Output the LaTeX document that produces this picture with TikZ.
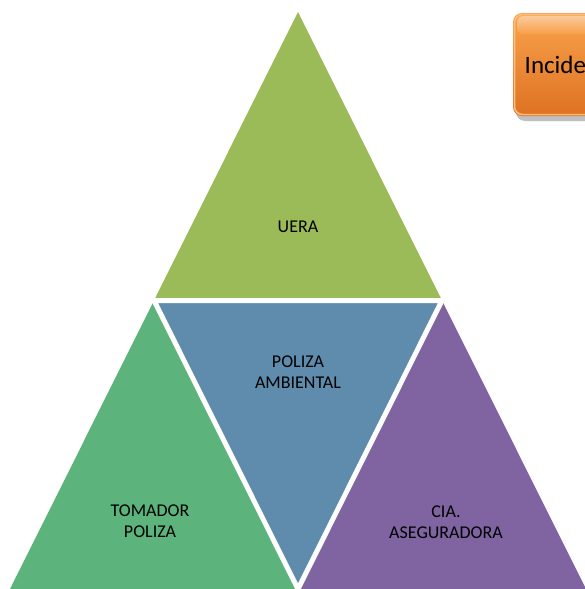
\documentclass[tikz,border=0pt]{standalone}
\usepackage{fontspec}
\setmainfont{Carlito}
\definecolor{topgreen}{HTML}{9BBB59}
\definecolor{midblue}{HTML}{5F8CAC}
\definecolor{leftgreen}{HTML}{5CB47C}
\definecolor{violet}{HTML}{8064A2}
\definecolor{orTop}{HTML}{F9A24C}
\definecolor{orBot}{HTML}{DE7222}
\begin{document}
\begin{tikzpicture}[x=1pt,y=-1pt,
  lbl/.style={font=\fontsize{18}{21}\selectfont, align=center, text=black, inner sep=0pt},
  gap/.style={draw=white, line width=5pt},
  piece/.style={draw=none}]
\useasboundingbox (0,0) rectangle (585,589);
\clip (0,0) rectangle (585,589);
\coordinate (A) at (298,12);
\coordinate (B) at (10,589);
\coordinate (C) at (586,589);
\coordinate (AB) at (154,300.5);
\coordinate (AC) at (442,300.5);
\coordinate (BC) at (298,589);
\fill[topgreen] (A) -- (AB) -- (AC) -- cycle;
\fill[midblue] (AB) -- (AC) -- (BC) -- cycle;
\fill[leftgreen] (AB) -- (B) -- (BC) -- cycle;
\fill[violet] (AC) -- (BC) -- (C) -- cycle;
\draw[gap] (AB) -- (AC) -- (BC) -- cycle;
\node[lbl] (uera) at (298,227) {UERA};
\node[lbl] (poliza) at (298,372) {POLIZA\\AMBIENTAL};
\node[lbl] (tomador) at (150,521) {TOMADOR\\POLIZA};
\node[lbl] (cia) at (446,522) {CIA.\\ASEGURADORA};
% orange box
\fill[black, opacity=0.25, rounded corners=9pt] (516,17) rectangle (650,121);
\shade[top color=orTop, bottom color=orBot, rounded corners=9pt] (513,13) rectangle (650,116);
\shade[top color=white!55!orTop, bottom color=orTop, rounded corners=6pt, opacity=0.8] (517,16) rectangle (650,34);
\draw[white!30!orTop, line width=1.5pt, rounded corners=8pt] (514.5,14.5) rectangle (650,114.5);
\node[font=\fontsize{25}{30}\selectfont, anchor=base west, inner sep=0pt] (inc) at (524.5,73) {Incide};
\end{tikzpicture}
\end{document}
